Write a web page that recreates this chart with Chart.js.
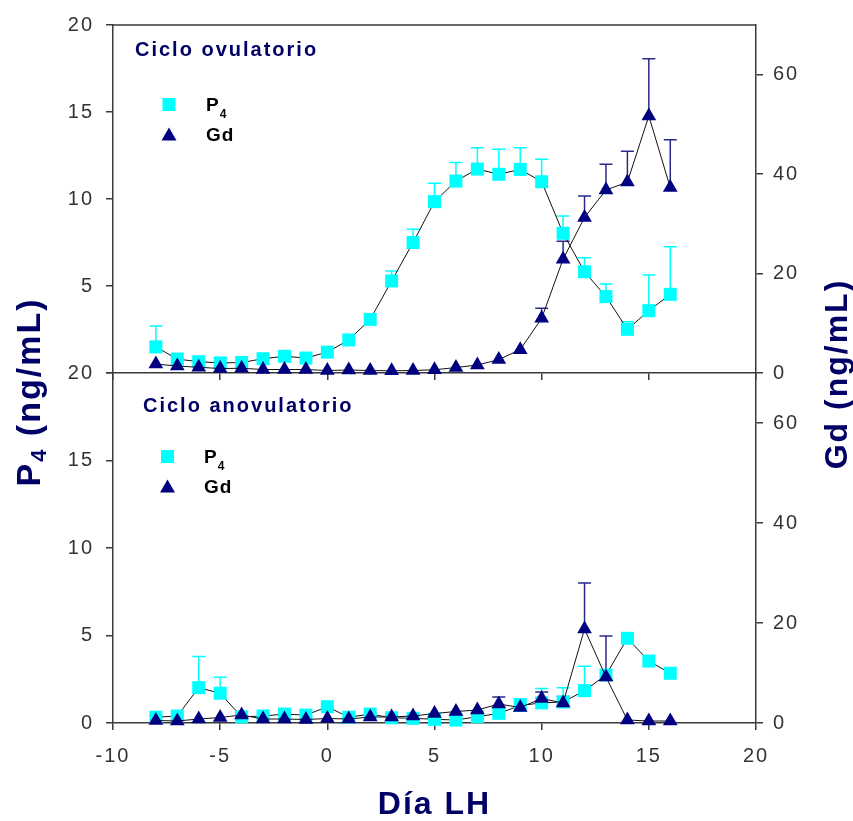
<!DOCTYPE html>
<html>
<head>
<meta charset="utf-8">
<script src="https://cdn.jsdelivr.net/npm/chart.js@4.4.1/dist/chart.umd.min.js"></script>
<style>
  html, body { margin: 0; padding: 0; background: #ffffff; }
  #wrap { position: relative; width: 853px; height: 821px; }
  #wrap canvas { position: absolute; left: 0; top: 0; }
</style>
</head>
<body>
<div id="wrap">
  <canvas id="ovulatorio" width="853" height="821"></canvas>
  <canvas id="anovulatorio" width="853" height="821"></canvas>
</div>
<script>
// Day relative to the LH peak
const days = [-8, -7, -6, -5, -4, -3, -2, -1, 0, 1, 2, 3, 4, 5, 6, 7, 8, 9, 10, 11, 12, 13, 14, 15, 16];

// Tick values
const xTicks = [-10, -5, 0, 5, 10, 15, 20];
const p4Ticks = [0, 5, 10, 15, 20];
const gdTicks = [0, 20, 40, 60];

// Ovulatory cycle: progesterone (ng/mL) mean and upper error
const p4Ovul = [1.5, 0.8, 0.65, 0.58, 0.6, 0.82, 0.96, 0.86, 1.2, 1.9, 3.08, 5.29, 7.5, 9.85, 11.03, 11.72, 11.42, 11.7, 10.99, 8.03, 5.82, 4.39, 2.51, 3.58, 4.52];
const p4OvulErr = [1.2, null, null, null, null, null, null, null, null, null, null, 0.57, 0.76, 1.05, 1.07, 1.23, 1.44, 1.25, 1.29, 1.0, 0.81, 0.72, 0.44, 2.05, 2.74];

// Ovulatory cycle: Gd (ng/mL) mean and upper error
const gdOvul = [1.8, 1.4, 1.15, 0.9, 0.95, 0.7, 0.7, 0.7, 0.5, 0.6, 0.5, 0.45, 0.5, 0.65, 1.1, 1.6, 2.7, 4.7, 11.0, 22.9, 31.3, 36.8, 38.4, 51.7, 37.3];
const gdOvulErr = [null, null, null, null, null, null, null, null, null, null, null, null, null, null, null, null, null, null, 2.0, 3.6, 4.3, 5.2, 6.2, 11.5, 9.6];

// Anovulatory cycle: progesterone (ng/mL) mean and upper error
const p4Anov = [0.33, 0.4, 2.02, 1.7, 0.35, 0.4, 0.51, 0.45, 0.93, 0.33, 0.51, 0.3, 0.27, 0.21, 0.17, 0.36, 0.55, 1.0, 1.15, 1.2, 1.85, 2.74, 4.84, 3.54, 2.84];
const p4AnovErr = [null, null, 1.78, 0.91, null, null, null, null, null, null, null, null, null, null, null, null, null, 0.38, 0.82, 0.82, 1.4, null, null, null, null];

// Anovulatory cycle: Gd (ng/mL) mean and upper error
const gdAnov = [0.5, 0.4, 0.8, 1.1, 1.6, 0.8, 0.8, 0.7, 0.9, 0.8, 1.2, 1.2, 1.4, 1.9, 2.3, 2.6, 3.8, 3.1, 4.9, 4.0, 18.8, 9.2, 0.6, 0.4, 0.4];
const gdAnovErr = [null, null, null, null, null, null, null, null, null, null, null, null, null, null, null, null, 1.4, null, 1.3, 1.3, 9.2, 8.2, null, null, null];

const FONT = '"Liberation Sans", Arial, Helvetica, sans-serif';
const P4_COLOR = '#00ffff';
const GD_COLOR = '#000080';
const GD_ERR_COLOR = '#2a2a8c';
const TITLE_COLOR = '#000066';
const AXIS_COLOR = '#3a3a3a';
const TICK_COLOR = '#333333';

Chart.defaults.font.family = FONT;

// Wider glyph spacing for all text drawn by the charts
const letterSpacing = {
  id: 'letterSpacing',
  beforeDraw(chart) { chart.ctx.letterSpacing = '2px'; }
};

// One-sided (upper) error bars with caps, drawn beneath the markers
const errorBars = {
  id: 'errorBars',
  beforeDatasetsDraw(chart) {
    const ctx = chart.ctx;
    chart.data.datasets.forEach((ds, i) => {
      if (!ds.errorBars) return;
      const meta = chart.getDatasetMeta(i);
      const xs = chart.scales[meta.xAxisID];
      const ys = chart.scales[meta.yAxisID];
      ctx.save();
      ctx.strokeStyle = ds.errorColor;
      ctx.lineWidth = 1.5;
      ds.data.forEach((pt, j) => {
        const e = ds.errorBars[j];
        if (e === null || e === undefined) return;
        const x = xs.getPixelForValue(pt.x);
        const y0 = ys.getPixelForValue(pt.y);
        const y1 = ys.getPixelForValue(pt.y + e);
        ctx.beginPath();
        ctx.moveTo(x, y0);
        ctx.lineTo(x, y1);
        ctx.moveTo(x - 6.5, y1);
        ctx.lineTo(x + 6.5, y1);
        ctx.stroke();
      });
      ctx.restore();
    });
  }
};

function drawRuns(ctx, runs, x, y) {
  let cx = x;
  runs.forEach(r => {
    ctx.font = r.font;
    ctx.fillText(r.text, cx, y + (r.dy || 0));
    cx += ctx.measureText(r.text).width;
  });
}

function runsWidth(ctx, runs) {
  let w = 0;
  runs.forEach(r => { ctx.font = r.font; w += ctx.measureText(r.text).width; });
  return w;
}

// Panel caption and the small marker legend
const panelNotes = {
  id: 'panelNotes',
  afterDraw(chart, args, o) {
    const ctx = chart.ctx;
    ctx.save();
    ctx.textBaseline = 'alphabetic';
    ctx.textAlign = 'left';

    ctx.letterSpacing = '2px';
    ctx.fillStyle = TITLE_COLOR;
    ctx.font = 'bold 20px ' + FONT;
    ctx.fillText(o.title, o.titleX, o.titleY);

    // square marker
    ctx.fillStyle = P4_COLOR;
    ctx.fillRect(o.markX - 6.5, o.row1 - 6.5, 13, 13);
    // triangle marker
    ctx.fillStyle = GD_COLOR;
    ctx.beginPath();
    ctx.moveTo(o.markX, o.row2 - 6.5);
    ctx.lineTo(o.markX + 7.5, o.row2 + 6.5);
    ctx.lineTo(o.markX - 7.5, o.row2 + 6.5);
    ctx.closePath();
    ctx.fill();

    ctx.letterSpacing = '1px';
    ctx.fillStyle = '#000000';
    drawRuns(ctx, [
      { text: 'P', font: 'bold 19px ' + FONT },
      { text: '4', font: 'bold 12px ' + FONT, dy: 7 }
    ], o.textX, o.row1 + 6);
    ctx.font = 'bold 19px ' + FONT;
    ctx.fillText('Gd', o.textX, o.row2 + 7);
    ctx.restore();
  }
};

// Top edge of the upper panel frame
const topFrame = {
  id: 'topFrame',
  afterDraw(chart) {
    const { left, right, top } = chart.chartArea;
    const ctx = chart.ctx;
    ctx.save();
    ctx.strokeStyle = AXIS_COLOR;
    ctx.lineWidth = 1.5;
    ctx.beginPath();
    ctx.moveTo(left, top);
    ctx.lineTo(right, top);
    ctx.stroke();
    ctx.restore();
  }
};

// Vertical axis titles shared by both panels
const sideTitles = {
  id: 'sideTitles',
  afterDraw(chart) {
    const ctx = chart.ctx;
    ctx.save();
    ctx.fillStyle = TITLE_COLOR;
    ctx.textBaseline = 'alphabetic';
    ctx.textAlign = 'left';
    ctx.letterSpacing = '2px';

    const leftRuns = [
      { text: 'P', font: 'bold 34px ' + FONT },
      { text: '4', font: 'bold 22px ' + FONT, dy: 6 },
      { text: ' (ng/mL)', font: 'bold 34px ' + FONT }
    ];
    const lw = runsWidth(ctx, leftRuns);
    ctx.save();
    ctx.translate(40, 392 + lw / 2);
    ctx.rotate(-Math.PI / 2);
    drawRuns(ctx, leftRuns, 0, 0);
    ctx.restore();

    const rightRuns = [{ text: 'Gd (ng/mL)', font: 'bold 32px ' + FONT }];
    const rw = runsWidth(ctx, rightRuns);
    ctx.save();
    ctx.translate(847, 374 + rw / 2);
    ctx.rotate(-Math.PI / 2);
    drawRuns(ctx, rightRuns, 0, 0);
    ctx.restore();

    ctx.restore();
  }
};

function buildPanel(canvasId, p4, p4Err, gd, gdErr, o) {
  const axisGrid = { drawOnChartArea: false, drawTicks: true, tickLength: 7, color: AXIS_COLOR, lineWidth: 1.5 };
  const axisBorder = { display: true, color: AXIS_COLOR, width: 1.5 };
  const tickFont = { size: 20, family: FONT };

  return new Chart(document.getElementById(canvasId), {
    type: 'line',
    data: {
      datasets: [
        {
          label: 'Gd',
          data: days.map((d, i) => ({ x: d, y: gd[i] })),
          yAxisID: 'yGd',
          order: 0,
          errorBars: gdErr,
          errorColor: GD_ERR_COLOR,
          borderColor: '#111111',
          borderWidth: 1,
          pointStyle: 'triangle',
          pointRadius: 8.5,
          pointHoverRadius: 8.5,
          pointBorderWidth: 0,
          pointBackgroundColor: GD_COLOR,
          clip: false
        },
        {
          label: 'P4',
          data: days.map((d, i) => ({ x: d, y: p4[i] })),
          yAxisID: 'yP4',
          order: 1,
          errorBars: p4Err,
          errorColor: P4_COLOR,
          borderColor: '#111111',
          borderWidth: 1,
          pointStyle: 'rect',
          pointRadius: 9.2,
          pointHoverRadius: 9.2,
          pointBorderWidth: 0,
          pointBackgroundColor: P4_COLOR,
          clip: false
        }
      ]
    },
    options: {
      responsive: false,
      animation: false,
      devicePixelRatio: 1,
      events: [],
      layout: { padding: { top: o.top, left: 0, right: 0, bottom: 0 } },
      elements: { line: { tension: 0, fill: false } },
      plugins: {
        legend: { display: false },
        tooltip: { enabled: false },
        panelNotes: o.notes
      },
      scales: {
        x: {
          type: 'linear',
          position: 'bottom',
          min: -10,
          max: 20,
          afterBuildTicks: s => { s.ticks = xTicks.map(v => ({ value: v })); },
          afterFit: s => { s.height = o.xHeight; },
          grid: axisGrid,
          border: axisBorder,
          ticks: {
            autoSkip: false,
            maxRotation: 0,
            padding: 14,
            color: TICK_COLOR,
            font: tickFont,
            callback: o.showXLabels ? (v => v) : (() => '')
          },
          title: {
            display: o.showXLabels,
            text: 'Día LH',
            color: TITLE_COLOR,
            font: { size: 32, weight: 'bold', family: FONT, lineHeight: 1 },
            padding: { top: 0, bottom: 0 }
          }
        },
        yP4: {
          type: 'linear',
          position: 'left',
          min: 0,
          max: 20,
          afterBuildTicks: s => { s.ticks = p4Ticks.map(v => ({ value: v })); },
          afterFit: s => { s.width = 113; },
          grid: axisGrid,
          border: axisBorder,
          ticks: {
            padding: 12,
            color: TICK_COLOR,
            font: tickFont,
            callback: v => (o.hideLeftZero && v === 0) ? '' : v
          }
        },
        yGd: {
          type: 'linear',
          position: 'right',
          min: 0,
          max: 70,
          afterBuildTicks: s => { s.ticks = gdTicks.map(v => ({ value: v })); },
          afterFit: s => { s.width = 97; },
          grid: axisGrid,
          border: axisBorder,
          ticks: {
            padding: 10,
            color: TICK_COLOR,
            font: tickFont,
            callback: v => v
          }
        }
      }
    },
    plugins: [letterSpacing, errorBars, panelNotes].concat(o.extra)
  });
}

buildPanel('ovulatorio', p4Ovul, p4OvulErr, gdOvul, gdOvulErr, {
  top: 25,
  xHeight: 821 - 373,
  showXLabels: false,
  hideLeftZero: true,
  notes: { title: 'Ciclo ovulatorio', titleX: 135, titleY: 56, markX: 169, row1: 104.5, row2: 134, textX: 206 },
  extra: [topFrame]
});

buildPanel('anovulatorio', p4Anov, p4AnovErr, gdAnov, gdAnovErr, {
  top: 373,
  xHeight: 821 - 723,
  showXLabels: true,
  hideLeftZero: false,
  notes: { title: 'Ciclo anovulatorio', titleX: 143, titleY: 412, markX: 167.5, row1: 456.5, row2: 486, textX: 204 },
  extra: [sideTitles]
});
</script>
</body>
</html>
